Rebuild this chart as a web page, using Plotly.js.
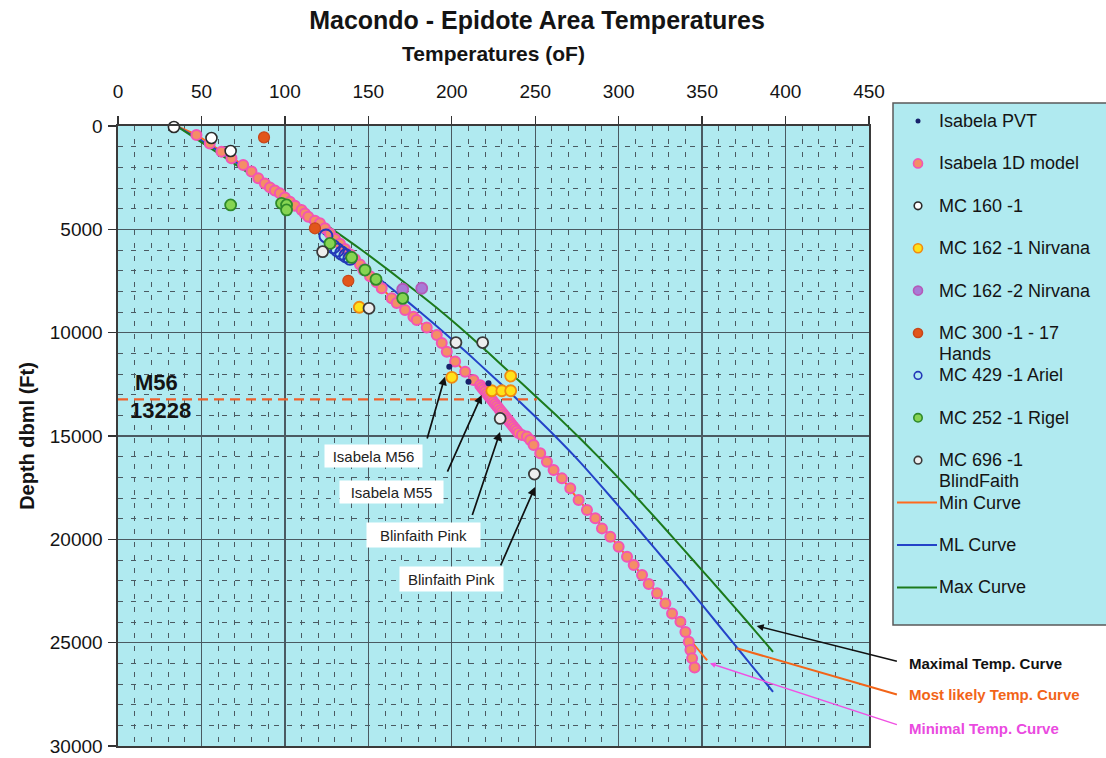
<!DOCTYPE html>
<html>
<head>
<meta charset="utf-8">
<script src="https://cdn.plot.ly/plotly-3.0.1.min.js"></script>
<style>
  html, body { margin: 0; padding: 0; background: #ffffff; }
  #chart { width: 1106px; height: 758px; }
</style>
</head>
<body>
<div id="chart"></div>
<script>
// Macondo - Epidote area: temperature (oF) against depth below mudline (ft)

// Isabela PVT samples
const pvtTemp  = [198.5, 210, 222];
const pvtDepth = [11650, 12370, 12450];

// Isabela 1D thermal model
const model1dTemp = [47, 55, 62, 68, 75, 80, 84, 88, 91, 94,
  97, 100, 103, 106, 110, 112, 114, 118, 121, 124,
  127, 130, 133, 136, 139, 142, 145, 147, 151, 155,
  158, 164, 167, 172, 177, 179, 185, 191, 194, 197,
  202, 208, 213, 217, 218, 219, 220, 221, 222, 223,
  224, 225, 226, 227, 228, 229, 230, 231, 232, 233,
  234, 235, 236, 237, 238, 239, 240, 242, 245, 247,
  249, 253, 257, 261, 266, 271, 276, 281, 286, 290,
  295, 300, 305, 309, 314, 318, 323, 328, 332, 337,
  340, 342, 343, 344, 345.5];
const model1dDepth = [435, 850, 1240, 1560, 1890, 2200, 2530, 2780, 2970, 3120,
  3260, 3460, 3660, 3860, 4070, 4230, 4390, 4580, 4710, 4950,
  5200, 5450, 5700, 5950, 6200, 6450, 6700, 6970, 7270, 7560,
  7850, 8340, 8570, 8900, 9230, 9390, 9750, 10110, 10500, 10920,
  11400, 11890, 12290, 12540, 12650, 12750, 12850, 12950, 13050, 13150,
  13250, 13350, 13450, 13550, 13650, 13750, 13850, 13950, 14050, 14150,
  14250, 14350, 14450, 14550, 14650, 14750, 14850, 14950, 15030, 15190,
  15430, 15840, 16250, 16650, 17050, 17530, 18100, 18580, 18980, 19470,
  19870, 20360, 20840, 21240, 21730, 22160, 22610, 23100, 23590, 23990,
  24480, 24960, 25360, 25760, 26200];

// Offset wells
const mc160Temp  = [33.5, 56, 67.5];
const mc160Depth = [50, 580, 1210];

const mc162n1Temp  = [144.6, 200, 235.3, 224, 230, 235.3];
const mc162n1Depth = [8770, 12160, 12100, 12810, 12810, 12810];

const mc162n2Temp  = [148, 170.6, 182];
const mc162n2Depth = [6950, 7900, 7850];

const mc300Temp  = [87.5, 118, 138];
const mc300Depth = [550, 4950, 7490];

const mc429Temp  = [124.6, 129, 131.5, 134, 136.5, 139];
const mc429Depth = [5320, 5840, 6000, 6150, 6280, 6400];

const mc252Temp  = [67.5, 98, 101, 101, 127, 140, 148, 154.6, 170.6];
const mc252Depth = [3820, 3740, 3820, 4060, 5680, 6360, 6970, 7420, 8340];

const mc696Temp  = [122.6, 150.4, 202.5, 218.5, 229, 249.5];
const mc696Depth = [6080, 8820, 10480, 10480, 14150, 16840];

// Temperature curves
const minCurveTemp  = [35, 47, 62, 75, 84, 91, 103, 114, 121, 133,
  147, 158, 167, 179, 191, 197, 208, 217, 225, 233,
  240, 247, 257, 266, 276, 286, 295, 305, 314, 323,
  332, 340, 343, 353];
const minCurveDepth = [0, 435, 1240, 1890, 2530, 2970, 3660, 4390, 4710, 5700,
  6970, 7850, 8570, 9390, 10110, 10920, 11890, 12540, 13350, 14150,
  14850, 15190, 16250, 17050, 18100, 18980, 19870, 20840, 21730, 22610,
  23590, 24480, 24870, 25850];

const mlCurveTemp  = [35, 56, 75, 91, 106, 120, 135, 150.5, 166, 181,
  195.5, 209.5, 223, 236.3, 249.2, 261.8, 273.8, 285, 295.8, 306.5,
  317, 327.5, 338, 348.3, 358.4, 368.5, 378.6, 388.7, 392.5];
const mlCurveDepth = [0, 1000, 2000, 3000, 4000, 5000, 6000, 7000, 8000, 9000,
  10000, 11000, 12000, 13000, 14000, 15000, 16000, 17000, 18000, 19000,
  20000, 21000, 22000, 23000, 24000, 25000, 26000, 27000, 27380];

const maxCurveTemp  = [35, 54, 73, 92, 110.5, 128.5, 146, 162.5, 178.5, 194,
  208.5, 222.3, 235.8, 249.3, 262.6, 275.4, 287.7, 299.6, 311.1, 322.4,
  333.5, 344.5, 355.5, 366.4, 377.2, 387.8, 392.5];
const maxCurveDepth = [0, 1000, 2000, 3000, 4000, 5000, 6000, 7000, 8000, 9000,
  10000, 11000, 12000, 13000, 14000, 15000, 16000, 17000, 18000, 19000,
  20000, 21000, 22000, 23000, 24000, 25000, 25450];

// M56 marker depth
const m56Depth = 13228;
const m56LineTemp = [0, 251];

// ---------------------------------------------------------------------------
const FONT = 'Arial, "Liberation Sans", Helvetica, sans-serif';
const CYAN = '#b0eaf0';
const GRID = '#4a5a62';

const W = 1106, H = 758;
const M = { l: 118, r: 237, t: 126, b: 12 };
const PW = W - M.l - M.r;
const PH = H - M.t - M.b;
const px = v => (v - M.l) / PW;          // page pixel -> paper x
const py = v => (H - M.b - v) / PH;      // page pixel -> paper y

// Series styles (legend order); labels may span two lines
const pointSeries = [
  { name: ['Isabela PVT'],         x: pvtTemp,     y: pvtDepth,     size: 6,  fill: '#17226b', line: '#17226b', lw: 0,   lr: 2.5 },
  { name: ['Isabela 1D model'],    x: model1dTemp, y: model1dDepth, size: 10, fill: '#f48e66', line: '#f255b4', lw: 2,   lr: 4.5 },
  { name: ['MC 160 -1'],           x: mc160Temp,   y: mc160Depth,   size: 11, fill: '#ffffff', line: '#2b2b2b', lw: 1.6, lr: 3.8 },
  { name: ['MC 162 -1 Nirvana'],   x: mc162n1Temp, y: mc162n1Depth, size: 11, fill: '#ffe21a', line: '#f08a12', lw: 1.8, lr: 4.5 },
  { name: ['MC 162 -2 Nirvana'],   x: mc162n2Temp, y: mc162n2Depth, size: 11, fill: '#a97ad6', line: '#b45ab8', lw: 1.8, lr: 4.5 },
  { name: ['MC 300 -1 - 17', 'Hands'], x: mc300Temp, y: mc300Depth, size: 11, fill: '#e2561a', line: '#c8461a', lw: 1.2, lr: 4.5 },
  { name: ['MC 429 -1 Ariel'],     x: mc429Temp,   y: mc429Depth,   size: 13, fill: 'rgba(0,0,0,0)', line: '#2338b8', lw: 2, lr: 3.8 },
  { name: ['MC 252 -1 Rigel'],     x: mc252Temp,   y: mc252Depth,   size: 11, fill: '#86d452', line: '#2f8a2a', lw: 1.8, lr: 4.2 },
  { name: ['MC 696 -1', 'BlindFaith'], x: mc696Temp, y: mc696Depth, size: 11, fill: '#eeeeee', line: '#3a3a3a', lw: 1.8, lr: 3.8 }
];
const lineSeries = [
  { name: ['Min Curve'], x: minCurveTemp, y: minCurveDepth, color: '#ff6a1e' },
  { name: ['ML Curve'],  x: mlCurveTemp,  y: mlCurveDepth,  color: '#2443c8' },
  { name: ['Max Curve'], x: maxCurveTemp, y: maxCurveDepth, color: '#1c7a1c' }
];

const traces = [];
lineSeries.forEach(s => traces.push({
  type: 'scatter', mode: 'lines', name: s.name.join(' '), x: s.x, y: s.y,
  line: { color: s.color, width: 2, shape: 'spline', smoothing: 0.6 }, showlegend: false, hoverinfo: 'skip'
}));
traces.push({
  type: 'scatter', mode: 'lines', name: 'M56', x: m56LineTemp, y: [m56Depth, m56Depth],
  line: { color: '#f0602a', width: 2.4, dash: '10px,6px' }, showlegend: false, hoverinfo: 'skip'
});
// drawing order for the point series
const drawOrder = [1, 2, 5, 4, 6, 7, 3, 8, 0];
drawOrder.forEach(i => {
  const s = pointSeries[i];
  traces.push({
    type: 'scatter', mode: 'markers', name: s.name.join(' '), x: s.x, y: s.y,
    marker: { size: s.size, color: s.fill, line: { color: s.line, width: s.lw } },
    showlegend: false, cliponaxis: false
  });
});

// ---- legend box (drawn with shapes / annotations) ----
const shapes = [];
const annotations = [];
shapes.push({
  type: 'rect', xref: 'paper', yref: 'paper',
  x0: px(893), x1: px(1125), y0: py(625), y1: py(103),
  fillcolor: CYAN, line: { color: '#5a5a5a', width: 1.5 }, layer: 'above'
});
const legTop = 121, legStep = 42.4, legLine = 20.8, legMarkX = 918, legTextX = 938;
const legFont = { family: FONT, size: 18, color: '#141414' };
const allLegend = pointSeries.map(s => ({ kind: 'pt', s })).concat(lineSeries.map(s => ({ kind: 'ln', s })));
allLegend.forEach((item, k) => {
  const yy = legTop + k * legStep;
  const s = item.s;
  if (item.kind === 'pt') {
    shapes.push({
      type: 'circle', xref: 'paper', yref: 'paper',
      xsizemode: 'pixel', ysizemode: 'pixel',
      xanchor: px(legMarkX), yanchor: py(yy),
      x0: -s.lr, x1: s.lr, y0: -s.lr, y1: s.lr,
      fillcolor: s.fill, line: { color: s.line, width: s.lw > 0 ? 1.6 : 0 }, layer: 'above'
    });
  } else {
    shapes.push({
      type: 'line', xref: 'paper', yref: 'paper',
      x0: px(897), x1: px(937), y0: py(yy), y1: py(yy),
      line: { color: s.color, width: 2 }, layer: 'above'
    });
  }
  s.name.forEach((ln, j) => annotations.push({
    xref: 'paper', yref: 'paper', x: px(legTextX), y: py(yy + j * legLine),
    xanchor: 'left', yanchor: 'middle', align: 'left',
    text: ln, showarrow: false, borderpad: 0, font: legFont
  }));
});

// ---- M56 horizon label ----
annotations.push(
  { x: 9, y: 12435, xanchor: 'left', text: 'M56', showarrow: false, font: { family: FONT, size: 22, weight: 'bold', color: '#141414' } },
  { x: 6, y: 13742, xanchor: 'left', text: '13228', showarrow: false, font: { family: FONT, size: 22, weight: 'bold', color: '#141414' } }
);

// ---- call-outs inside the plot ----
const boxFont = { family: FONT, size: 15, color: '#222' };
annotations.push(
  { x: 152.8, y: 15970, text: 'Isabela M56', showarrow: false, bgcolor: '#ffffff', width: 93, height: 18, borderpad: 2, font: boxFont },
  { x: 163.9, y: 17730, text: 'Isabela M55', showarrow: false, bgcolor: '#ffffff', width: 99, height: 18, borderpad: 2, font: boxFont },
  { x: 182.8, y: 19790, text: 'Blinfaith Pink', showarrow: false, bgcolor: '#ffffff', width: 109, height: 20, borderpad: 2, font: boxFont },
  { x: 199.8, y: 21920, text: 'Blinfaith Pink', showarrow: false, bgcolor: '#ffffff', width: 99, height: 20, borderpad: 2, font: boxFont }
);
const arrowBase = { text: '', showarrow: true, axref: 'x', ayref: 'y', arrowhead: 2, arrowsize: 1, arrowwidth: 1.7, arrowcolor: '#111111' };
annotations.push(
  Object.assign({}, arrowBase, { x: 195.9, y: 12130, ax: 185.0, ay: 15190 }),
  Object.assign({}, arrowBase, { x: 217.9, y: 13020, ax: 197.0, ay: 16800 }),
  Object.assign({}, arrowBase, { x: 228.9, y: 14810, ax: 212.0, ay: 18900 }),
  Object.assign({}, arrowBase, { x: 249.9, y: 17470, ax: 228.9, ay: 21330 }),
  Object.assign({}, arrowBase, { x: 382.7, y: 24190, ax: 467.6, ay: 25920, arrowwidth: 1.4 }),
  Object.assign({}, arrowBase, { x: 370.7, y: 25270, ax: 467.6, ay: 27530, arrowhead: 0, arrowwidth: 2, arrowcolor: '#f26418' }),
  Object.assign({}, arrowBase, { x: 354.7, y: 26000, ax: 467.6, ay: 28990, arrowsize: 0.8, arrowwidth: 1.4, arrowcolor: '#f050e2' })
);
// ---- curve labels right of the plot ----
const sideFont = c => ({ family: FONT, size: 15, weight: 'bold', color: c });
annotations.push(
  { xref: 'paper', yref: 'paper', x: px(907), y: py(663), xanchor: 'left', yanchor: 'middle', showarrow: false, text: 'Maximal Temp. Curve', font: sideFont('#111111') },
  { xref: 'paper', yref: 'paper', x: px(907), y: py(694), xanchor: 'left', yanchor: 'middle', showarrow: false, text: 'Most likely Temp. Curve', font: sideFont('#f26418') },
  { xref: 'paper', yref: 'paper', x: px(907), y: py(728), xanchor: 'left', yanchor: 'middle', showarrow: false, text: 'Minimal Temp. Curve', font: sideFont('#ea4ae0') }
);

const layout = {
  width: W, height: H,
  margin: M,
  paper_bgcolor: '#ffffff',
  plot_bgcolor: CYAN,
  showlegend: false,
  font: { family: FONT, color: '#141414' },
  title: {
    text: 'Macondo - Epidote Area Temperatures',
    font: { family: FONT, size: 25, weight: 'bold', color: '#141414' },
    xref: 'container', yref: 'container', x: 537 / W, y: 1 - 20 / H,
    xanchor: 'center', yanchor: 'middle'
  },
  xaxis: {
    range: [0, 450], side: 'top', tick0: 0, dtick: 50,
    ticks: 'outside', ticklen: 8, tickwidth: 1.3, tickcolor: '#333',
    ticklabelstandoff: 11,
    tickfont: { family: FONT, size: 19, color: '#141414' },
    showgrid: true, gridcolor: GRID, gridwidth: 1.3,
    minor: { dtick: 10, showgrid: true, gridcolor: GRID, gridwidth: 1, griddash: '5px,8px', ticks: '' },
    showline: true, mirror: true, linecolor: '#3a3a3a', linewidth: 1.6,
    zeroline: false, fixedrange: true, automargin: false,
    title: { text: 'Temperatures (oF)', standoff: 13, font: { family: FONT, size: 21, weight: 'bold', color: '#141414' } }
  },
  yaxis: {
    range: [30000, 0], tick0: 0, dtick: 5000, tickformat: 'd',
    ticks: 'outside', ticklen: 8, tickwidth: 1.3, tickcolor: '#333',
    ticklabelstandoff: 2,
    tickfont: { family: FONT, size: 19, color: '#141414' },
    showgrid: true, gridcolor: GRID, gridwidth: 1.3,
    minor: { dtick: 1000, showgrid: true, gridcolor: GRID, gridwidth: 1, griddash: '5px,8px', ticks: '' },
    showline: true, mirror: true, linecolor: '#3a3a3a', linewidth: 1.6,
    zeroline: false, fixedrange: true, automargin: false,
    title: { text: 'Depth dbml (Ft)', standoff: 10, font: { family: FONT, size: 20, weight: 'bold', color: '#141414' } }
  },
  shapes: shapes,
  annotations: annotations
};

Plotly.newPlot('chart', traces, layout, { displayModeBar: false, staticPlot: true });
</script>
</body>
</html>
